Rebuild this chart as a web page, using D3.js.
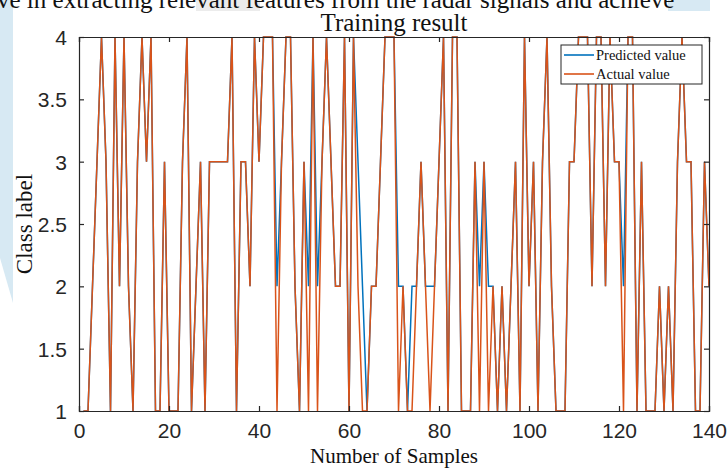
<!DOCTYPE html>
<html>
<head>
<meta charset="utf-8">
<script src="https://cdn.jsdelivr.net/npm/d3@7"></script>
<style>
  body { margin: 0; background: #fff; }
  svg { display: block; }
</style>
</head>
<body>
<div id="chart"></div>
<script>
// sample index runs 1..140
var actual = [
  1,1,2,3,4,3,1,4,2,4,   2,1,3,4,3,4,1,1,3,1,
  1,1,3,4,1,2,3,1,3,3,   3,3,3,4,1,3,3,2,4,3,
  4,4,4,1,3,4,4,2,1,3,   1,4,1,3,4,3,2,2,4,1,
  4,2,1,1,2,2,3,4,4,4,   1,2,1,1,2,3,2,1,2,3,
  4,1,4,4,1,1,1,3,1,3,   1,2,1,2,1,2,3,1,4,2,
  3,1,3,4,2,1,1,1,3,3,   4,4,4,2,4,4,2,4,3,3,
  1,4,4,1,3,1,1,1,2,1,   2,1,3,4,3,3,1,1,3,2
];
var predicted = [
  1,1,2,3,4,3,1,4,2,4,   2,1,3,4,3,4,1,1,3,1,
  1,1,3,4,1,2,3,1,3,3,   3,3,3,4,1,3,3,2,4,3,
  4,4,4,2,3,4,4,2,1,3,   2,4,2,3,4,3,2,2,4,1,
  4,3,2,1,2,2,3,4,4,4,   2,2,1,2,2,3,2,2,2,3,
  4,1,4,4,1,1,1,3,2,3,   2,2,1,2,1,2,3,1,4,2,
  3,1,3,4,2,1,1,1,3,3,   4,4,4,2,4,4,2,4,3,3,
  2,4,4,1,3,1,1,1,2,1,   2,1,3,4,3,3,1,1,3,2
];
var xTicks = [0, 20, 40, 60, 80, 100, 120, 140];
var yTicks = [1, 1.5, 2, 2.5, 3, 3.5, 4];
var yTickLabels = ["1", "1.5", "2", "2.5", "3", "3.5", "4"];
var seriesNames = ["Predicted value", "Actual value"];
var seriesColors = ["#0072BD", "#D95319"];

var width = 728, height = 470;
var margin = { top: 37, right: 19, bottom: 59, left: 79 };
var plotW = width - margin.left - margin.right,
    plotH = height - margin.top - margin.bottom;

var svg = d3.select("#chart").append("svg")
    .attr("width", width)
    .attr("height", height);

// bits of the surrounding page
svg.append("path")
    .attr("d", "M0,0 L13,0 L13,303 L0,258 Z")
    .attr("fill", "#d7e9f3");
svg.append("rect").attr("x", 196).attr("y", 0).attr("width", 64).attr("height", 11).attr("fill", "#ececec");
svg.append("rect").attr("x", 668).attr("y", 0).attr("width", 42).attr("height", 11).attr("fill", "#d7e9f3");
svg.append("text")
    .attr("x", -3).attr("y", 8)
    .style("font-family", "'Liberation Serif', serif")
    .style("font-size", "25px")
    .style("fill", "#111")
    .text("ve in extracting relevant features from the radar signals and achieve");

var x = d3.scaleLinear().domain([0, 140]).range([0, plotW]);
var y = d3.scaleLinear().domain([1, 4]).range([plotH, 0]);

var inner = svg.append("g")
    .attr("transform", "translate(" + margin.left + "," + margin.top + ")");

inner.append("rect")
    .attr("width", plotW).attr("height", plotH)
    .attr("fill", "#fff");

var line = d3.line()
    .x(function (d, i) { return x(i + 1); })
    .y(function (d) { return y(d); });

inner.append("path")
    .datum(predicted)
    .attr("fill", "none")
    .attr("stroke", seriesColors[0])
    .attr("stroke-width", 1.5)
    .attr("d", line);

inner.append("path")
    .datum(actual)
    .attr("fill", "none")
    .attr("stroke", seriesColors[1])
    .attr("stroke-width", 1.5)
    .attr("d", line);

// axes, ticks point inward like matlab
var axCol = "#262626";
var tickFont = "'Liberation Sans', Arial, sans-serif";

var xAxis = inner.append("g")
    .attr("transform", "translate(0," + plotH + ")")
    .call(d3.axisBottom(x).tickValues(xTicks).tickSize(-5).tickPadding(12));
var xTop = inner.append("g")
    .call(d3.axisTop(x).tickValues(xTicks).tickSize(-5).tickFormat(""));
var yAxis = inner.append("g")
    .call(d3.axisLeft(y).tickValues(yTicks).tickSize(-5).tickPadding(12)
        .tickFormat(function (d, i) { return yTickLabels[i]; }));
var yRight = inner.append("g")
    .attr("transform", "translate(" + plotW + ",0)")
    .call(d3.axisRight(y).tickValues(yTicks).tickSize(-5).tickFormat(""));

[xAxis, xTop, yAxis, yRight].forEach(function (a) {
    a.selectAll("path").style("stroke", axCol).style("stroke-width", 1.2);
    a.selectAll("line").style("stroke", axCol).style("stroke-width", 1.2);
    a.selectAll("text")
        .style("fill", axCol)
        .style("font-family", tickFont)
        .style("font-size", "21px");
});
yAxis.selectAll("text").attr("dy", "0.36em");

// titles
var serif = "'Liberation Serif', 'Times New Roman', serif";
svg.append("text")
    .attr("x", margin.left + plotW / 2).attr("y", 31)
    .attr("text-anchor", "middle")
    .style("font-family", serif).style("font-size", "25px").style("fill", "#111")
    .text("Training result");
svg.append("text")
    .attr("x", margin.left + plotW / 2).attr("y", 463)
    .attr("text-anchor", "middle")
    .style("font-family", serif).style("font-size", "21px").style("fill", "#111")
    .text("Number of Samples");
svg.append("text")
    .attr("transform", "translate(32," + (margin.top + plotH / 2) + ") rotate(-90)")
    .attr("text-anchor", "middle")
    .style("font-family", serif).style("font-size", "23px").style("fill", "#111")
    .text("Class label");

// legend
var legend = svg.append("g").attr("transform", "translate(561,45)");
legend.append("rect")
    .attr("width", 141).attr("height", 39)
    .attr("fill", "#fff")
    .attr("stroke", axCol).attr("stroke-width", 1);
var items = legend.selectAll(".item")
    .data(seriesNames)
    .enter().append("g")
    .attr("class", "item")
    .attr("transform", function (d, i) { return "translate(0," + (10 + i * 19) + ")"; });
items.append("line")
    .attr("x1", 3).attr("x2", 33)
    .attr("stroke", function (d, i) { return seriesColors[i]; })
    .attr("stroke-width", 1.6);
items.append("text")
    .attr("x", 35).attr("dy", "0.35em")
    .style("font-family", serif).style("font-size", "14.5px").style("fill", "#111")
    .text(function (d) { return d; });
</script>
</body>
</html>
